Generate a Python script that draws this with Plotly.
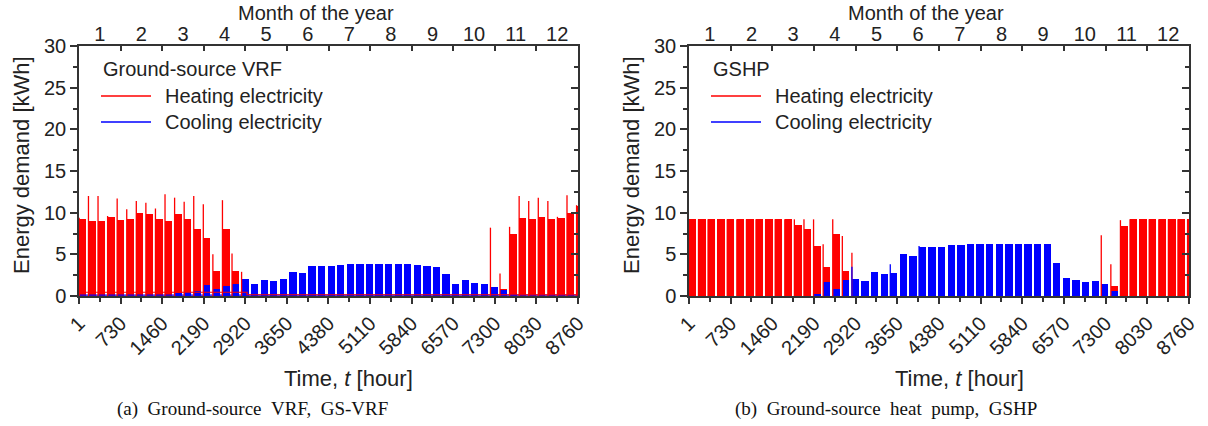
import plotly.graph_objects as go

W, H = 1208, 426

# ---------------- data (weekly blocks k = 0..52) ----------------
# Ground-source VRF
vrf_heat_level = [9.2, 9.0, 9.0, 9.5, 9.1, 9.2, 10.0, 9.8, 9.2, 9.0, 9.8, 9.2, 8.0, 7.0, 3.0, 8.0, 3.0, 1.0,
                  0, 0, 0, 0, 0, 0, 0, 0, 0, 0, 0, 0, 0, 0, 0, 0, 0, 0, 0, 0, 0, 0, 0, 0, 0,
                  1.0, 0.8, 7.5, 9.4, 9.3, 9.5, 9.3, 9.4, 10.0, 10.8]
vrf_heat_peak = [9.4, 12.0, 12.0, 9.6, 11.7, 10.4, 11.4, 11.2, 10.5, 12.2, 11.8, 11.3, 12.0, 11.0, 5.0, 11.5, 5.1, 2.9,
                 0, 0, 0, 0, 0, 0, 0, 0, 0, 0, 0, 0, 0, 0, 0, 0, 0, 0, 0, 0, 0, 0, 0, 0, 0,
                 8.2, 2.7, 8.3, 12.0, 11.4, 11.8, 11.4, 9.5, 12.1, 10.9]
vrf_cool_level = [0, 0, 0, 0, 0, 0, 0, 0, 0, 0, 0.4, 0.5, 0.6, 1.3, 0.8, 1.2, 1.5, 2.0, 1.5, 1.9, 1.8, 2.1,
                  2.9, 2.8, 3.6, 3.6, 3.6, 3.7, 3.8, 3.85, 3.85, 3.85, 3.85, 3.85, 3.8, 3.75, 3.6, 3.5,
                  2.6, 1.5, 1.9, 1.6, 1.5, 1.1, 0.7, 0.3, 0, 0, 0, 0, 0, 0, 0]
vrf_cool_peak = [0] * 53
vrf_heat_base_hours = [1, 2950, 2950, 8760]
vrf_heat_base_vals = [0.45, 0.45, 0.15, 0.15]
vrf_cool_base_hours = [1, 8760]
vrf_cool_base_vals = [0.1, 0.1]

# GSHP
gshp_heat_level = [9.2, 9.2, 9.2, 9.2, 9.2, 9.2, 9.2, 9.2, 9.2, 9.2, 9.2, 8.5, 8.0, 6.0, 3.5, 7.5, 3.0, 1.5,
                   0, 0, 0, 0, 0, 0, 0, 0, 0, 0, 0, 0, 0, 0, 0, 0, 0, 0, 0, 0, 0, 0, 0, 0, 0,
                   1.0, 1.2, 8.4, 9.2, 9.2, 9.2, 9.2, 9.2, 9.2, 9.2]
gshp_heat_peak = [9.2, 9.2, 9.2, 9.2, 9.2, 9.2, 9.2, 9.2, 9.2, 9.2, 9.2, 9.2, 9.2, 9.2, 6.2, 9.2, 7.2, 5.2,
                  0, 0, 0, 0, 0, 0, 0, 0, 0, 0, 0, 0, 0, 0, 0, 0, 0, 0, 0, 0, 0, 0, 0, 0, 0,
                  7.3, 3.8, 9.1, 9.2, 9.2, 9.2, 9.2, 9.2, 9.2, 9.2]
gshp_cool_level = [0, 0, 0, 0, 0, 0, 0, 0, 0, 0, 0, 0, 0, 0.2, 1.7, 0.8, 1.9, 2.1, 1.8, 2.9, 2.6, 2.8,
                   5.0, 4.8, 5.9, 5.9, 5.9, 6.1, 6.1, 6.3, 6.3, 6.3, 6.3, 6.3, 6.3, 6.3, 6.3, 6.2,
                   4.0, 2.2, 1.9, 1.7, 1.8, 1.4, 0.6, 0, 0, 0, 0, 0, 0, 0, 0]
gshp_cool_peak = [0] * 17 + [3.5, 0, 0, 0, 3.8, 0, 0, 6.0] + [0] * 28

hour_ticks = [1, 730, 1460, 2190, 2920, 3650, 4380, 5110, 5840, 6570, 7300, 8030, 8760]
hour_minor = [365, 1095, 1825, 2555, 3285, 4015, 4745, 5475, 6205, 6935, 7665, 8395]
months = ["1", "2", "3", "4", "5", "6", "7", "8", "9", "10", "11", "12"]

RED = "#ff0000"
BLUE = "#0000ff"
AX = "#333333"
TXT = "#222222"
FONT = "Liberation Sans, Arial, sans-serif"

WEEK = 168
BLOCK = 128


def block_start(k):
    return max(1, WEEK * k - 4)


def blocks(levels, color, xa, ya):
    xs, ys, ws = [], [], []
    for k, v in enumerate(levels):
        if v > 0:
            s = block_start(k)
            e = min(s + BLOCK, 8760)
            xs.append((s + e) / 2)
            ws.append(e - s)
            ys.append(v)
    return go.Bar(x=xs, y=ys, width=ws, marker=dict(color=color, line=dict(width=0)),
                  xaxis=xa, yaxis=ya, showlegend=False, hoverinfo="skip")


def spikes(peaks, color, xa, ya):
    xs, ys = [], []
    for k, p in enumerate(peaks):
        if p > 0:
            h = block_start(k) + 3
            xs += [h, h, None]
            ys += [0, p, None]
    return go.Scatter(x=xs, y=ys, mode="lines", line=dict(color=color, width=1.3),
                      xaxis=xa, yaxis=ya, showlegend=False, hoverinfo="skip")


def baseline(hours, vals, color, xa, ya):
    return go.Scatter(x=hours, y=vals, mode="lines", line=dict(color=color, width=1.2),
                      xaxis=xa, yaxis=ya, showlegend=False, hoverinfo="skip")


fig = go.Figure()

fig.add_trace(baseline(vrf_cool_base_hours, vrf_cool_base_vals, BLUE, "x", "y"))
fig.add_trace(baseline(vrf_heat_base_hours, vrf_heat_base_vals, RED, "x", "y"))

panels = [
    ("x", "y", vrf_heat_level, vrf_heat_peak, vrf_cool_level, vrf_cool_peak),
    ("x2", "y2", gshp_heat_level, gshp_heat_peak, gshp_cool_level, gshp_cool_peak),
]
for xa, ya, hl, hp, cl, cp in panels:
    fig.add_trace(blocks(hl, RED, xa, ya))
    fig.add_trace(spikes(hp, RED, xa, ya))
    fig.add_trace(blocks(cl, BLUE, xa, ya))
    fig.add_trace(spikes(cp, BLUE, xa, ya))

# dummy traces so that the frame axes (top / right) are drawn
fig.add_trace(go.Scatter(x=[None], y=[None], xaxis="x3", yaxis="y3", showlegend=False))
fig.add_trace(go.Scatter(x=[None], y=[None], xaxis="x4", yaxis="y4", showlegend=False))

# ---------------- layout ----------------
L0, L1 = 79, 578
R0, R1 = 689, 1189
TOP, BOT = 46, 296
ydom = [1 - BOT / H, 1 - TOP / H]

tickfont = dict(family=FONT, size=20, color=TXT)


def bottom_axis(x0, x1, anchor):
    return dict(domain=[x0 / W, x1 / W], range=[1, 8760], anchor=anchor, automargin=False,
                tickmode="array", tickvals=hour_ticks, ticktext=[str(t) for t in hour_ticks],
                tickangle=-45, ticks="outside", ticklen=6, tickwidth=1.5, tickcolor=AX,
                minor=dict(tickmode="array", tickvals=hour_minor, ticks="outside", ticklen=4,
                           tickwidth=1.5, tickcolor=AX),
                showline=True, linecolor=AX, linewidth=1.5, showgrid=False, zeroline=False,
                tickfont=tickfont)


def left_axis(anchor):
    return dict(domain=ydom, range=[0, 30], anchor=anchor, automargin=False,
                tickmode="linear", tick0=0, dtick=5,
                ticks="outside", ticklen=7, tickwidth=1.5, tickcolor=AX,
                minor=dict(dtick=2.5, tick0=0, ticks="outside", ticklen=4, tickwidth=1.5, tickcolor=AX),
                showline=True, linecolor=AX, linewidth=1.5, showgrid=False, zeroline=False,
                tickfont=tickfont)


def top_axis(over, anchor):
    return dict(overlaying=over, anchor=anchor, side="top", range=[0, 12], automargin=False,
                tickmode="array", tickvals=[i + 0.5 for i in range(12)], ticktext=months,
                ticks="", ticklabelstandoff=-5,
                minor=dict(tickmode="array", tickvals=list(range(1, 12)), ticks="inside",
                           ticklen=5, tickwidth=1.5, tickcolor=AX),
                showline=True, linecolor=AX, linewidth=1.5, showgrid=False, zeroline=False,
                tickfont=tickfont)


def right_axis(over, anchor):
    return dict(overlaying=over, anchor=anchor, side="right", range=[0, 30], automargin=False,
                tickmode="linear", tick0=0, dtick=5, ticks="inside", ticklen=7, tickwidth=1.5,
                tickcolor=AX, showticklabels=False,
                minor=dict(dtick=2.5, tick0=0, ticks="inside", ticklen=4, tickwidth=1.5, tickcolor=AX),
                showline=True, linecolor=AX, linewidth=1.5, showgrid=False, zeroline=False)


def px(x):
    return x / W


def py(y):
    return 1 - y / H


annotations = []
shapes = []


def text(x, y, s, size, xanchor="center", yanchor="middle", angle=0, family=FONT, color=TXT):
    annotations.append(dict(x=px(x), y=py(y), xref="paper", yref="paper", text=s, showarrow=False,
                            xanchor=xanchor, yanchor=yanchor, textangle=angle,
                            font=dict(family=family, size=size, color=color)))


for (x0, x1, title, cap, capx) in [
    (L0, L1, "Ground-source VRF", "(a)&nbsp;&nbsp;Ground-source&nbsp;&nbsp;VRF,&nbsp;&nbsp;GS-VRF", 252),
    (R0, R1, "GSHP", "(b)&nbsp;&nbsp;Ground-source&nbsp;&nbsp;heat&nbsp;&nbsp;pump,&nbsp;&nbsp;GSHP", 886),
]:
    cx = (x0 + x1) / 2
    text(x0 - 57, 165, "Energy demand [kWh]", 22, angle=-90)
    text(cx + 20, 378, "Time, <i>t</i> [hour]", 22)
    text(cx - 13, 0, "Month of the year", 20, yanchor="top")
    text(capx, 409, cap, 19, family="Liberation Serif, Times New Roman, serif", color="#111")
    # legend
    lx = x0 + 22
    text(lx, 69, title, 20, xanchor="left")
    for yy, col, lab in [(96, RED, "Heating electricity"), (122, BLUE, "Cooling electricity")]:
        shapes.append(dict(type="line", xref="paper", yref="paper", x0=px(lx), x1=px(lx + 50),
                           y0=py(yy), y1=py(yy), line=dict(color=col, width=1.3)))
        text(lx + 62, yy, lab, 20, xanchor="left")

fig.update_layout(
    width=W, height=H, margin=dict(l=0, r=0, t=0, b=0, autoexpand=False),
    paper_bgcolor="white", plot_bgcolor="white",
    barmode="overlay", bargap=0, showlegend=False,
    xaxis=bottom_axis(L0, L1, "y"),
    yaxis=left_axis("x"),
    xaxis2=bottom_axis(R0, R1, "y2"),
    yaxis2=left_axis("x2"),
    xaxis3=top_axis("x", "y"),
    yaxis3=right_axis("y", "x"),
    xaxis4=top_axis("x2", "y2"),
    yaxis4=right_axis("y2", "x2"),
    annotations=annotations,
    shapes=shapes,
)

fig.write_html("out.html")
